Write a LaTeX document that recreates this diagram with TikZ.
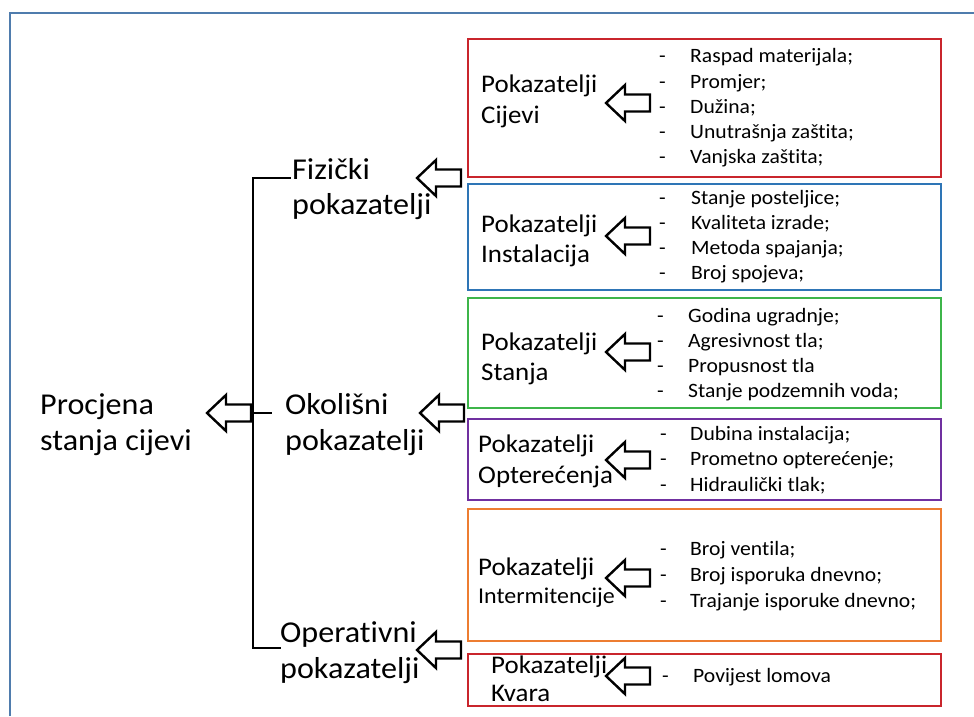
\documentclass[tikz,border=0pt]{standalone}
\usepackage{fontspec}
\setmainfont[FakeStretch=1.06,Ligatures={NoCommon}]{Carlito}
\definecolor{framec}{HTML}{4F7CAD}
\definecolor{cred}{HTML}{C9252C}
\definecolor{cblue}{HTML}{2E75B6}
\definecolor{cgreen}{HTML}{3DB54A}
\definecolor{cpurple}{HTML}{7030A0}
\definecolor{corange}{HTML}{ED7D31}
\begin{document}
\begin{tikzpicture}[x=1pt,y=-1pt,
  big/.style={anchor=base west, inner sep=0, font=\fontsize{30.3}{34}\selectfont},
  mid/.style={anchor=base west, inner sep=0, font=\fontsize{25.4}{30}\selectfont},
  itm/.style={anchor=base west, inner sep=0, font=\fontsize{20.4}{23}\selectfont},
  dsh/.style={anchor=base west, inner sep=0, font=\fontsize{20.4}{23}\selectfont},
  box/.style={draw=#1, line width=2.4pt, anchor=north west, inner sep=0},
  brk/.style={line width=2.6pt, line cap=rect},
  blockarr/.pic={\draw[line width=2.4pt, line join=miter, fill=white]
     (0,0) -- (19,-18) -- (19,-8.5) -- (44,-8.5) -- (44,8.5) -- (19,8.5) -- (19,18) -- cycle;}
]
\useasboundingbox (0,0) rectangle (974,716);
\fill[white] (0,0) rectangle (974,716);
% outer frame
\draw[framec, line width=2.2pt] (10,716) -- (10,13) -- (974,13);

% boxes
\node[box=cred,    minimum width=473pt, minimum height=138pt] (b1) at (467,38)  {};
\node[box=cblue,   minimum width=473pt, minimum height=106pt] (b2) at (467,183) {};
\node[box=cgreen,  minimum width=473pt, minimum height=110pt] (b3) at (467,297) {};
\node[box=cpurple, minimum width=473pt, minimum height=81pt]  (b4) at (467,418) {};
\node[box=corange, minimum width=473pt, minimum height=132pt] (b5) at (467,508) {};
\node[box=cred,    minimum width=473pt, minimum height=52pt]  (b6) at (467,653) {};

% root
\node[big] (r1) at (40,414) {Procjena};
\node[big] (r2) at (40,450) {stanja cijevi};

% bracket
\coordinate (bt) at (253,178);
\coordinate (bb) at (253,648);
\coordinate (bm) at (253,413);
\coordinate (btr) at (290,178);
\coordinate (bbr) at (280,648);
\coordinate (bmr) at (271,413);
\draw[brk] (btr) -- (bt) -- (bb) -- (bbr);
\draw[brk] (bm) -- (bmr);

% level 1 labels
\node[big] (f1) at (292,179) {Fizički};
\node[big] (f2) at (292,214) {pokazatelji};
\node[big] (o1) at (285,414) {Okolišni};
\node[big] (o2) at (285,450) {pokazatelji};
\node[big] (p1) at (280,642) {Operativni};
\node[big] (p2) at (280,678) {pokazatelji};

% block arrows
\pic at (207,413) {blockarr};
\pic at (417,178) {blockarr};
\pic at (420,413) {blockarr};
\pic at (417,650) {blockarr};
\pic at (606,103) {blockarr};
\pic at (606,236) {blockarr};
\pic at (606,352) {blockarr};
\pic at (606,460) {blockarr};
\pic at (606,578) {blockarr};
\pic at (606,676) {blockarr};

% box labels
\node[mid] (l1a) at (481,92)  {Pokazatelji};
\node[mid] (l1b) at (481,123) {Cijevi};
\node[mid] (l2a) at (481,232) {Pokazatelji};
\node[mid] (l2b) at (481,262) {Instalacija};
\node[mid] (l3a) at (481,350) {Pokazatelji};
\node[mid] (l3b) at (481,380) {Stanja};
\node[mid] (l4a) at (478,452) {Pokazatelji};
\node[mid] (l4b) at (478,483) {Opterećenja};
\node[mid] (l5a) at (478,575) {Pokazatelji};
\node[anchor=base west, inner sep=0, font=\fontsize{22.6}{26}\selectfont] (l5b) at (478,603) {Intermitencije};
\node[mid] (l6a) at (491,673) {Pokazatelji};
\node[mid] (l6b) at (491,701) {Kvara};

% items
\foreach \t/\yy [count=\k] in {Raspad materijala;/62, Promjer;/88, Dužina;/113, Unutrašnja zaštita;/138, Vanjska zaštita;/163}{
  \node[dsh] (d1-\k) at (659,\yy) {-};
  \node[itm] (i1-\k) at (690,\yy) {\t};
}
\foreach \t/\yy [count=\k] in {Stanje posteljice;/204, Kvaliteta izrade;/229, Metoda spajanja;/254, Broj spojeva;/279}{
  \node[dsh] (d2-\k) at (659,\yy) {-};
  \node[itm] (i2-\k) at (691,\yy) {\t};
}
\foreach \t/\yy [count=\k] in {Godina ugradnje;/322, Agresivnost tla;/347, Propusnost tla/372, Stanje podzemnih voda;/397}{
  \node[dsh] (d3-\k) at (657,\yy) {-};
  \node[itm] (i3-\k) at (688,\yy) {\t};
}
\foreach \t/\yy [count=\k] in {Dubina instalacija;/440, Prometno opterećenje;/465, Hidraulički tlak;/491}{
  \node[dsh] (d4-\k) at (660,\yy) {-};
  \node[itm] (i4-\k) at (690,\yy) {\t};
}
\foreach \t/\yy [count=\k] in {Broj ventila;/555, Broj isporuka dnevno;/581, Trajanje isporuke dnevno;/607}{
  \node[dsh] (d5-\k) at (660,\yy) {-};
  \node[itm] (i5-\k) at (690,\yy) {\t};
}
\node[dsh] (d6-1) at (662,682) {-};
\node[itm] (i6-1) at (693,682) {Povijest lomova};
\end{tikzpicture}
\end{document}
